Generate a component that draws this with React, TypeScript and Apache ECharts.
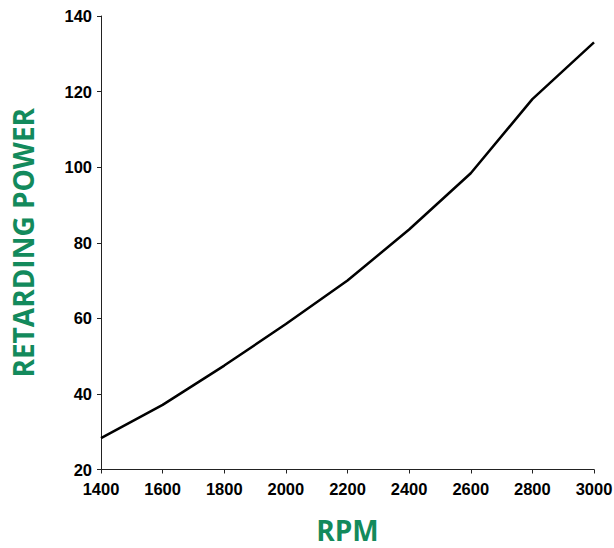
import React, { useEffect, useRef } from "react";
import * as echarts from "echarts";

const rpm = [1400, 1600, 1800, 2000, 2200, 2400, 2600, 2800, 3000];
const power = [28.3, 37.1, 47.5, 58.5, 70, 83.5, 98.4, 118, 133];
const xTitle = "RPM";
const yTitle = "RETARDING POWER";

export default function App() {
  const ref = useRef<HTMLDivElement>(null);
  useEffect(() => {
    const chart = echarts.init(ref.current!, null, { renderer: "svg" });
    const green = "#138a5c";
    chart.setOption({
      animation: false,
      grid: { left: 101, right: 20, top: 16, bottom: 78.5, containLabel: false, outerBoundsMode: "none" },
      xAxis: {
        type: "value",
        min: 1400,
        max: 3000,
        interval: 200,
        name: xTitle,
        nameLocation: "middle",
        nameGap: 46,
        nameTextStyle: { color: green, fontSize: 28, lineHeight: 28, fontWeight: "bold", fontFamily: "Open Sans" },
        axisLine: { lineStyle: { color: "#222", width: 1 } },
        axisTick: { show: true, length: 4, lineStyle: { color: "#222" } },
        axisLabel: {
          color: "#000", fontSize: 16.5, fontWeight: "bold", fontFamily: "Liberation Sans", margin: 11,
          formatter: (v: number) => String(v),
        },
        splitLine: { show: false },
      },
      yAxis: {
        type: "value",
        min: 20,
        max: 140,
        interval: 20,
        name: yTitle,
        nameLocation: "middle",
        nameGap: 64,
        nameRotate: 90,
        nameTextStyle: { color: green, fontSize: 28, fontWeight: "bold", fontFamily: "Open Sans" },
        axisLine: { show: true, lineStyle: { color: "#222", width: 1 } },
        axisTick: { show: true, length: 4, lineStyle: { color: "#222" } },
        axisLabel: {
          color: "#000", fontSize: 16.5, fontWeight: "bold", fontFamily: "Liberation Sans", margin: 9,
          formatter: (v: number) => String(v),
        },
        splitLine: { show: false },
      },
      series: [
        {
          type: "line",
          data: rpm.map((x, i) => [x, power[i]]),
          showSymbol: false,
          lineStyle: { color: "#000", width: 2.5 },
        },
      ],
    });
    return () => chart.dispose();
  }, []);
  return <div ref={ref} style={{ width: 614, height: 548, position: "absolute", left: 0, top: 0 }} />;
}
